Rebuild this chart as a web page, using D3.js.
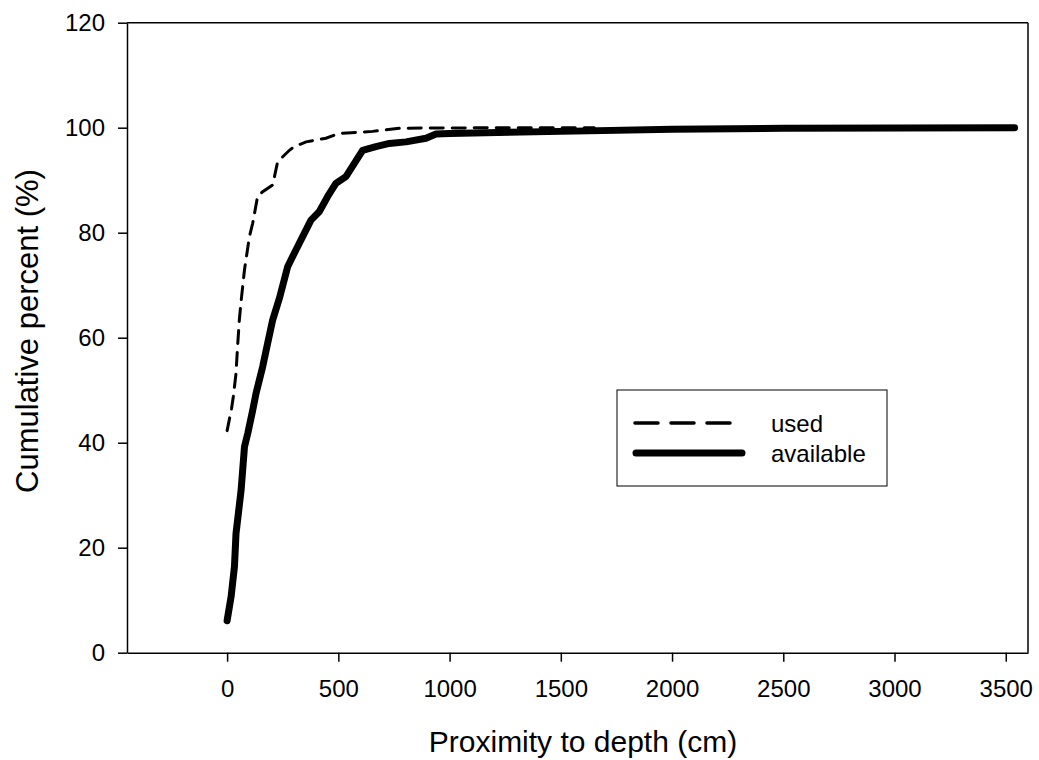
<!DOCTYPE html>
<html>
<head>
<meta charset="utf-8">
<script src="https://cdn.jsdelivr.net/npm/d3@7"></script>
<style>
  body { margin: 0; background: #fff; }
  svg { font-family: "Liberation Sans", Arial, sans-serif; }
</style>
</head>
<body>
<script>
// cumulative percent curves
var usedX = [0, 20, 28, 40, 47, 55, 63, 78, 100, 115, 137, 160, 205, 227, 280, 302, 355, 444, 504, 654, 775, 1224, 1650];
var usedY = [42.3, 46.5, 48.8, 53.2, 58.3, 63.4, 67.0, 72.9, 79.2, 81.8, 86.9, 87.8, 89.1, 93.5, 95.7, 96.4, 97.3, 98.0, 98.9, 99.3, 99.9, 100, 100];

var availX = [0, 18, 33, 40, 63, 78, 93, 115, 130, 160, 182, 205, 235, 272, 302, 339, 377, 414, 452, 489, 534, 572, 609, 669, 729, 804, 894, 939, 1000, 1500, 2000, 2500, 3540];
var availY = [6.1, 10.7, 16.4, 22.7, 31, 39.2, 41.8, 46.2, 49.4, 54.5, 58.9, 63.4, 67.5, 73.5, 76.1, 79.2, 82.4, 84, 86.9, 89.4, 90.7, 93.2, 95.7, 96.4, 97.0, 97.3, 98.0, 98.8, 98.9, 99.3, 99.7, 99.9, 100];

var xTicks = [0, 500, 1000, 1500, 2000, 2500, 3000, 3500];
var yTicks = [0, 20, 40, 60, 80, 100, 120];
var seriesNames = ["used", "available"];

var W = 1039, H = 760;
var margin = {top: 22.7, right: 11, bottom: 107.3, left: 127};
var width = W - margin.left - margin.right,
    height = H - margin.top - margin.bottom;

var x = d3.scaleLinear().domain([-450, 3600]).range([0, width]);
var y = d3.scaleLinear().domain([0, 120]).range([height, 0]);

var svg = d3.select("body").append("svg")
  .attr("width", W)
  .attr("height", H);

var main = svg.append("g")
  .attr("transform", "translate(" + margin.left + "," + margin.top + ")");

// frame top and right
main.append("line")
  .attr("x1", 0).attr("x2", width).attr("y1", 0).attr("y2", 0)
  .attr("stroke", "#000").attr("stroke-width", 1.5);
main.append("line")
  .attr("x1", width).attr("x2", width).attr("y1", 0).attr("y2", height)
  .attr("stroke", "#000").attr("stroke-width", 1.5);

var xAxis = d3.axisBottom(x).tickValues(xTicks).tickFormat(d3.format("d"))
  .tickSize(9).tickPadding(18).tickSizeOuter(0);
var yAxis = d3.axisLeft(y).tickValues(yTicks).tickFormat(d3.format("d"))
  .tickSize(9).tickPadding(13).tickSizeOuter(0);

var gx = main.append("g")
  .attr("transform", "translate(0," + height + ")")
  .call(xAxis);
var gy = main.append("g").call(yAxis);

[gx, gy].forEach(function(g) {
  g.selectAll("path, line").attr("stroke", "#000").attr("stroke-width", 1.5);
  g.selectAll("text").attr("font-size", 24).attr("fill", "#000")
    .style("font-family", "'Liberation Sans', Arial, sans-serif");
});

// axis titles
svg.append("text")
  .attr("x", 583)
  .attr("y", 752)
  .attr("text-anchor", "middle")
  .attr("font-size", 30)
  .text("Proximity to depth (cm)");

svg.append("text")
  .attr("transform", "translate(38,331) rotate(-90)")
  .attr("text-anchor", "middle")
  .attr("font-size", 31)
  .text("Cumulative percent (%)");

var line = d3.line()
  .x(function(d) { return x(d[0]); })
  .y(function(d) { return y(d[1]); });

var availData = availX.map(function(v, i) { return [v, availY[i]]; });
var usedData = usedX.map(function(v, i) { return [v, usedY[i]]; });

main.append("path")
  .datum(availData)
  .attr("d", line)
  .attr("fill", "none")
  .attr("stroke", "#000")
  .attr("stroke-width", 7)
  .attr("stroke-linecap", "round")
  .attr("stroke-linejoin", "round");

main.append("path")
  .datum(usedData)
  .attr("d", line)
  .attr("fill", "none")
  .attr("stroke", "#000")
  .attr("stroke-width", 3)
  .attr("stroke-dasharray", "13,9")
  .attr("stroke-linecap", "round");

// legend
var leg = svg.append("g");
leg.append("rect")
  .attr("x", 617).attr("y", 390)
  .attr("width", 270).attr("height", 96)
  .attr("fill", "#fff").attr("stroke", "#000").attr("stroke-width", 1);

leg.append("line")
  .attr("x1", 635).attr("x2", 731).attr("y1", 423).attr("y2", 423)
  .attr("stroke", "#000").attr("stroke-width", 3.5)
  .attr("stroke-dasharray", "23,13").attr("stroke-linecap", "round");
leg.append("line")
  .attr("x1", 636).attr("x2", 742).attr("y1", 453).attr("y2", 453)
  .attr("stroke", "#000").attr("stroke-width", 7)
  .attr("stroke-linecap", "round");

leg.selectAll("text.lab")
  .data(seriesNames)
  .enter().append("text")
  .attr("class", "lab")
  .attr("x", 771)
  .attr("y", function(d, i) { return 431.5 + i * 30; })
  .attr("font-size", 24)
  .text(function(d) { return d; });
</script>
</body>
</html>
